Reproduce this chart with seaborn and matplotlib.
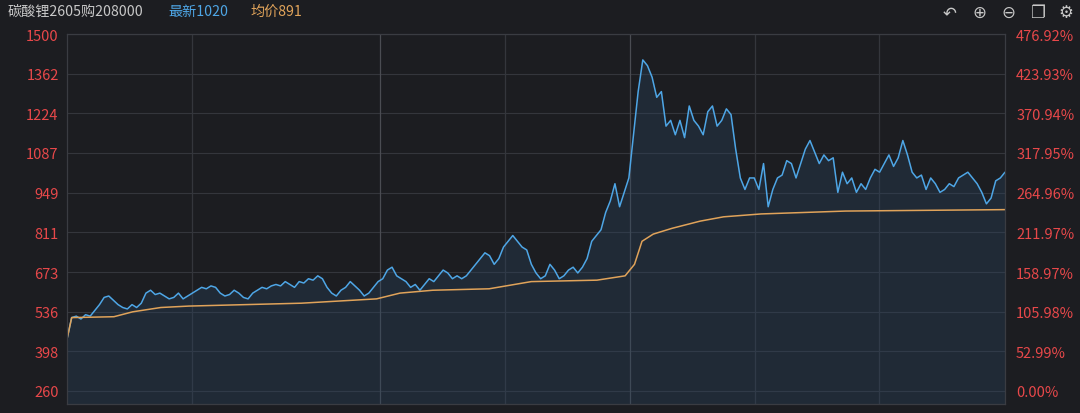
import numpy as np
import pandas as pd
import seaborn as sns
import matplotlib.pyplot as plt

price = [440, 515, 520, 510, 525, 520, 540, 560, 585, 590, 575, 560, 550, 545, 560, 550, 565, 600, 610, 595, 600, 590, 580, 585, 600,
         580, 590, 600, 610, 620, 615, 625, 620, 600, 590, 595, 610, 600, 585, 580, 600, 610, 620, 615, 625, 630, 625, 640, 630, 620,
         640, 635, 650, 645, 660, 650, 620, 600, 590, 610, 620, 640, 625, 610, 590, 600, 620,
         640, 650, 680, 690, 660, 650, 640, 620, 630, 610, 630, 650, 640, 660, 680, 670, 650, 660, 650, 660, 680, 700, 720, 740,
         730, 700, 720, 760, 780, 800, 780, 760, 750,
         700, 670, 650, 660, 700, 680, 650, 660, 680, 690, 670, 690, 720, 780, 800, 820, 880, 920, 980, 900, 950, 1000, 1150, 1300,
         1410, 1390,
         1350, 1280, 1300, 1180, 1200, 1150, 1200, 1140, 1250, 1200, 1180, 1150, 1230, 1250, 1180, 1200, 1240, 1220, 1100, 1000,
         960, 1000, 1000, 960, 1050,
         900, 960, 1000, 1010, 1060, 1050, 1000, 1050, 1100, 1130, 1090, 1050, 1080, 1060, 1070, 950, 1020, 980, 1000, 950, 980,
         960, 1000, 1030, 1020,
         1050, 1080, 1040, 1070, 1130, 1080, 1020, 1000, 1010, 960, 1000, 980, 950, 960, 980, 970, 1000, 1010, 1020, 1000, 980,
         950, 910, 930, 990, 1000, 1020]
# average price line, position in % of session
avg_pos = [0, 0.5, 5, 7, 10, 13, 25, 33, 35.5, 39, 45, 49.5, 56.5, 59.5, 60.5, 61.3, 62.5, 64.5, 67.5, 70, 74, 83, 100]
avg_val = [440, 515, 518, 535, 550, 555, 565, 580, 600, 610, 615, 640, 645, 660, 700, 780, 805, 825, 850, 865, 875, 885, 890]

yticks = [260, 398, 536, 673, 811, 949, 1087, 1224, 1362, 1500]
pct_labels = ['0.00%', '52.99%', '105.98%', '158.97%', '211.97%', '264.96%', '317.95%', '370.94%', '423.93%', '476.92%']

bg = '#1c1d21'
blue = '#4ea6e6'
orange = '#e0a35a'
red = '#e8484a'

sns.set_style('dark')
plt.rcParams['font.family'] = ['Noto Sans CJK SC', 'DejaVu Sans']

df = pd.DataFrame({'t': np.linspace(0, 100, len(price)), 'price': price})
avg_df = pd.DataFrame({'t': avg_pos, 'avg': avg_val})

fig = plt.figure(figsize=(10.8, 4.14), dpi=100, facecolor=bg)
ax = fig.add_axes([67 / 1080, 9 / 414, 938 / 1080, 370 / 414], facecolor=bg)
ylo = 260 - 13 * 1240 / 357
ax.fill_between(df['t'], df['price'], ylo, color='#2a4460', alpha=0.35, lw=0)
sns.lineplot(data=df, x='t', y='price', color=blue, lw=1.1, ax=ax)
sns.lineplot(data=avg_df, x='t', y='avg', color=orange, lw=1.1, ax=ax)
ax.set_xlim(0, 100)
ax.set_ylim(ylo, 1500)
ax.set_yticks(yticks)
ax.set_yticklabels([str(v) for v in yticks])
ax.set_xticks([])
ax.set_xlabel('')
ax.set_ylabel('')
ax.tick_params(axis='y', colors=red, labelsize=10.5, length=0, pad=6)
for y in yticks:
    ax.axhline(y, color='#34363c', lw=0.8, zorder=0)
for x, c in [(13.3, '#34363c'), (33.4, '#4a4c52'), (46.7, '#34363c'), (60, '#4a4c52'), (73.3, '#34363c'), (86.6, '#34363c')]:
    ax.axvline(x, color=c, lw=0.9, zorder=0)
for s in ax.spines.values():
    s.set_color('#3a3c42')
    s.set_linewidth(0.9)

ax2 = ax.twinx()
ax2.set_ylim(ax.get_ylim())
ax2.set_yticks(yticks)
ax2.set_yticklabels(pct_labels)
ax2.tick_params(axis='y', colors=red, labelsize=10.5, length=0, pad=8)
for s in ax2.spines.values():
    s.set_visible(False)

fig.text(8 / 1080, 1 - 12 / 414, '碳酸锂2605购208000', color='#c8c8c8', fontsize=10.2, va='center')
fig.text(168 / 1080, 1 - 12 / 414, '最新1020', color=blue, fontsize=10.2, va='center')
fig.text(250 / 1080, 1 - 12 / 414, '均价891', color=orange, fontsize=10.2, va='center')
for i, sym in enumerate(['↶', '⊕', '⊖', '❐', '⚙']):
    fig.text((950 + i * 29) / 1080, 1 - 13 / 414, sym, color='#c8c8c8', fontsize=12, va='center', ha='center',
             family=['DejaVu Sans', 'Noto Sans CJK SC'])

fig.savefig('out.png', dpi=100, facecolor=bg)
